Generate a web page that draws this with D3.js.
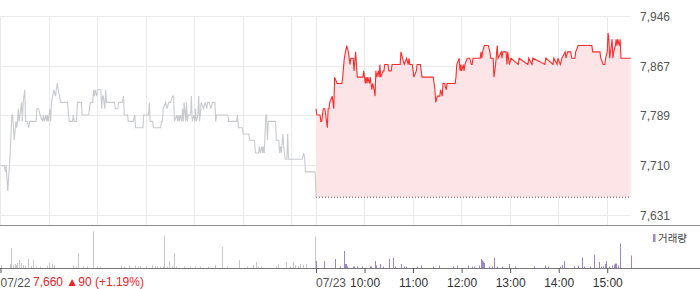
<!DOCTYPE html>
<html><head><meta charset="utf-8">
<script src="https://cdn.jsdelivr.net/npm/d3@7"></script>
<style>
body{margin:0;background:#fff;}
svg{display:block;font-family:"Liberation Sans",Arial,sans-serif;}
</style>
</head><body>
<svg id="chart" width="700" height="289"></svg>
<script>
// ---- data (minutes from 09:00 of each day) ----
const prevMin = [0,5,6,7,9,12,14,15,17,19,20,21,22,23,25,26,27,28,30,31,33,35,36,44,45,47,49,52,53,54,56,57,58,59,61,62,63,66,68,70,73,74,83,84,85,89,90,91,94,95,100,101,109,110,111,114,115,116,117,119,120,124,125,126,127,129,130,131,141,142,145,146,151,152,153,157,158,164,166,167,176,177,183,184,185,188,189,198,199,200,201,204,206,208,210,213,214,215,218,219,220,221,222,224,225,226,227,229,230,231,232,235,236,237,239,240,241,242,244,245,246,247,248,251,253,255,256,258,260,262,265,266,267,281,282,292,293,294,299,300,307,308,314,315,319,320,321,323,324,325,326,328,329,330,331,340,341,344,345,346,347,349,350,351,352,354,355,356,358,373,375,376,377,389,390];
const prevPrice = [7710,7710,7700,7710,7670,7730,7790,7790,7750,7780,7770,7780,7800,7780,7800,7810,7780,7810,7830,7780,7780,7770,7780,7780,7800,7800,7790,7780,7790,7780,7790,7780,7790,7780,7800,7780,7810,7830,7820,7840,7820,7810,7810,7790,7780,7780,7790,7780,7780,7810,7810,7790,7790,7800,7810,7810,7830,7820,7830,7820,7830,7830,7800,7820,7820,7800,7830,7810,7810,7800,7800,7810,7810,7820,7790,7790,7780,7780,7790,7770,7770,7790,7790,7810,7780,7780,7770,7770,7780,7780,7800,7810,7800,7810,7810,7820,7820,7780,7790,7780,7790,7780,7790,7780,7800,7780,7810,7780,7810,7780,7790,7790,7820,7780,7790,7780,7800,7780,7790,7820,7780,7790,7810,7800,7810,7800,7810,7810,7800,7810,7810,7780,7790,7790,7780,7780,7790,7770,7770,7760,7760,7750,7750,7730,7730,7740,7730,7740,7730,7740,7730,7790,7790,7750,7780,7780,7750,7750,7730,7740,7730,7760,7740,7730,7720,7720,7760,7720,7720,7720,7730,7720,7700,7700,7660];
const todayMin = [0,1,5,6,7,9,11,12,14,15,16,17,20,21,22,23,26,32,33,35,38,40,41,42,43,46,47,49,51,58,59,61,62,63,64,66,67,68,69,70,72,73,74,75,77,78,79,80,83,84,85,88,89,90,93,94,104,105,107,109,112,114,115,116,119,120,121,124,125,129,131,145,146,147,148,150,153,154,156,157,159,161,162,172,173,174,177,178,179,180,182,183,184,187,190,192,193,194,198,203,204,205,206,208,213,215,216,219,220,222,224,225,229,230,231,235,236,237,239,241,250,251,262,263,267,268,283,284,293,294,298,299,302,304,308,309,311,315,316,320,321,324,341,342,351,352,355,357,358,360,361,362,363,366,367,368,370,371,372,373,375,376,377,389];
const todayPrice = [7800,7790,7790,7780,7780,7800,7800,7790,7770,7800,7800,7810,7820,7810,7800,7850,7840,7840,7850,7880,7900,7890,7880,7870,7880,7880,7860,7890,7850,7850,7860,7840,7850,7840,7850,7840,7850,7840,7830,7840,7830,7820,7860,7850,7860,7850,7870,7850,7860,7860,7870,7870,7870,7860,7860,7870,7870,7890,7880,7870,7880,7870,7880,7870,7870,7860,7850,7860,7870,7870,7850,7850,7840,7830,7810,7820,7820,7830,7820,7840,7840,7830,7840,7840,7850,7870,7880,7860,7870,7860,7870,7860,7870,7880,7880,7870,7870,7880,7880,7880,7890,7880,7890,7900,7900,7890,7880,7880,7850,7870,7900,7880,7890,7880,7890,7890,7870,7890,7870,7880,7870,7880,7870,7880,7870,7880,7870,7880,7870,7880,7870,7880,7870,7880,7890,7880,7890,7890,7880,7880,7890,7900,7900,7890,7890,7880,7870,7870,7880,7890,7920,7910,7880,7910,7880,7890,7900,7910,7900,7910,7900,7910,7880,7880];
const prevVolMin = [1,12,14,16,18,20,21,24,26,29,31,35,38,41,45,49,58,61,64,67,90,94,97,103,108,115,120,124,149,153,159,167,170,173,181,188,192,194,198,201,203,206,209,212,215,218,227,235,241,247,257,266,274,280,296,305,313,316,319,323,341,344,353,358,362,365,368,371,374,378,389];
const prevVol = [3000,4000,20000,3000,4000,3000,5000,8000,5000,3000,2500,9000,2000,8000,1500,1500,2500,5000,4000,3000,2500,1500,15000,1500,1500,36500,1500,1500,2500,1500,2500,2500,1500,2000,1500,2500,2000,1500,1500,1500,32500,1500,7000,1500,15000,1500,1500,1500,1500,1500,1500,3000,21000,1500,8000,1500,3000,6000,1500,1500,1500,4000,6000,1500,6000,3000,1500,4000,3000,4000,31500];
const todayVolMin = [0,10,24,30,35,36,38,39,46,48,51,58,67,69,73,75,80,84,91,96,98,106,109,112,125,130,145,153,170,175,188,189,193,196,202,205,206,207,208,215,218,221,224,230,239,246,270,284,288,302,305,307,319,325,329,332,339,344,351,353,356,358,359,363,367,369,370,372,374,376,377,390];
const todayVol = [7000,7000,9000,1500,17000,4000,4000,1500,1500,1500,1500,1500,1500,1500,7000,2500,4000,1500,9000,10000,1500,4000,1500,1500,1500,2500,1500,2500,1500,2500,2500,1500,1500,1500,2500,9000,7500,6500,5000,1500,1500,10000,1500,1500,4000,1500,1500,2500,1500,1500,3000,7000,1500,2500,10500,1500,1500,13500,6000,1500,1500,4000,7000,1500,2500,3500,4500,4500,2500,10500,24500,12500];
const yTicks = [7631, 7710, 7789, 7867, 7946];
const prevClose = 7660;
const dayLabels = ["07/22", "07/23"];
const hourLabels = ["10:00", "11:00", "12:00", "13:00", "14:00", "15:00"];
const hourMins = [60, 120, 180, 240, 300, 360];
const summaryText = "7,660 \u25B290 (+1.19%)";
const legendLabel = "거래량";

// ---- layout ----
const DAY = 390;
const svg = d3.select("#chart");
const x = d3.scaleLinear().domain([0, 2 * DAY]).range([0.5, 631.5]);
const y = d3.scaleLinear().domain([7631, 7946]).range([215.5, 16.5]);
const yv = d3.scaleLinear().domain([0, 40000]).range([268, 228]);
const plotRight = 630;
const crisp = v => Math.round(v - 0.5) + 0.5;

// grid
const grid = svg.append("g");
grid.selectAll("line.h").data(yTicks).join("line")
  .attr("x1", 0).attr("x2", plotRight)
  .attr("y1", d => crisp(y(d))).attr("y2", d => crisp(y(d)))
  .attr("stroke", "#ebebeb").attr("stroke-width", 1);
const vMins = [0].concat(hourMins).concat([DAY]).concat(hourMins.map(m => m + DAY));
grid.selectAll("line.v").data(vMins).join("line")
  .attr("x1", d => crisp(x(d))).attr("x2", d => crisp(x(d)))
  .attr("y1", crisp(y(7946))).attr("y2", 225)
  .attr("stroke", "#ebebeb").attr("stroke-width", 1);

// today area
const today = todayMin.map((m, i) => ({m: m + DAY, v: todayPrice[i]}));
const prev = prevMin.map((m, i) => ({m: m, v: prevPrice[i]}));
svg.append("path").datum(today)
  .attr("d", d3.area().x(d => x(d.m)).y0(y(prevClose)).y1(d => y(d.v)))
  .attr("fill", "#fde5e7");

// baseline (previous close)
svg.append("line")
  .attr("x1", x(DAY)).attr("x2", plotRight)
  .attr("y1", y(prevClose)).attr("y2", y(prevClose))
  .attr("stroke", "#555").attr("stroke-width", 1).attr("stroke-dasharray", "1,2");

const line = d3.line().x(d => x(d.m)).y(d => y(d.v));
svg.append("path").datum(prev).attr("d", line)
  .attr("fill", "none").attr("stroke", "#c8cace").attr("stroke-width", 1.1);
svg.append("path").datum(today).attr("d", line)
  .attr("fill", "none").attr("stroke", "#ff2b2b").attr("stroke-width", 1.1);

// y labels
const yAxis = svg.append("g").attr("transform", `translate(${plotRight},0)`)
  .call(d3.axisRight(y).tickValues(yTicks).tickSize(0).tickPadding(10).tickFormat(d3.format(",")));
yAxis.select(".domain").remove();
yAxis.selectAll("text").attr("fill", "#555").style("font-size", "12px")
  .style("font-family", '"Liberation Sans",Arial,sans-serif');

// separators
svg.append("line").attr("x1", 0).attr("x2", 700).attr("y1", 225.5).attr("y2", 225.5)
  .attr("stroke", "#8c8c8c").attr("stroke-width", 1);

// volume bars
const vol = prevVolMin.map((m, i) => ({m: m, v: prevVol[i], c: "#c5c7cb"}))
  .concat(todayVolMin.map((m, i) => ({m: m + DAY, v: todayVol[i], c: "#9a86c8"})));
svg.append("g").selectAll("rect").data(vol).join("rect")
  .attr("x", d => Math.round(x(d.m) - 0.5)).attr("width", 1)
  .attr("y", d => yv(d.v)).attr("height", d => yv(0) - yv(d.v))
  .attr("fill", d => d.c);

// x axis
svg.append("line").attr("x1", 0).attr("x2", 700).attr("y1", 268.5).attr("y2", 268.5)
  .attr("stroke", "#777").attr("stroke-width", 1);
const tickMins = [0, DAY].concat(hourMins.map(m => m + DAY));
const tickText = dayLabels.concat(hourLabels);
const xAxis = svg.append("g").attr("transform", "translate(0,268)")
  .call(d3.axisBottom(x).tickValues(tickMins).tickSize(5).tickPadding(5)
    .tickFormat((d, i) => tickText[i]));
xAxis.select(".domain").remove();
xAxis.selectAll("line").attr("stroke", "#555");
xAxis.selectAll("text").attr("fill", "#333").style("font-size", "12px")
  .style("font-family", '"Liberation Sans",Arial,sans-serif')
  .attr("text-anchor", (d, i) => i < 2 ? "start" : "middle")
  .attr("x", (d, i) => i < 2 ? -0.5 : 0);
xAxis.selectAll("text").filter((d, i) => i < 2).attr("fill", "#555");

// summary text
svg.append("text").attr("x", 33).attr("y", 285.5)
  .attr("fill", "#ec2227").style("font-size", "12px").text(summaryText);

// legend
svg.append("rect").attr("x", 653).attr("y", 234).attr("width", 2.5).attr("height", 8).attr("fill", "#9a86c8");
svg.append("text").attr("x", 658).attr("y", 242).attr("fill", "#444")
  .style("font-size", "10.5px").style("font-family", '"Noto Sans CJK KR",sans-serif').text(legendLabel);
</script>
</body></html>
